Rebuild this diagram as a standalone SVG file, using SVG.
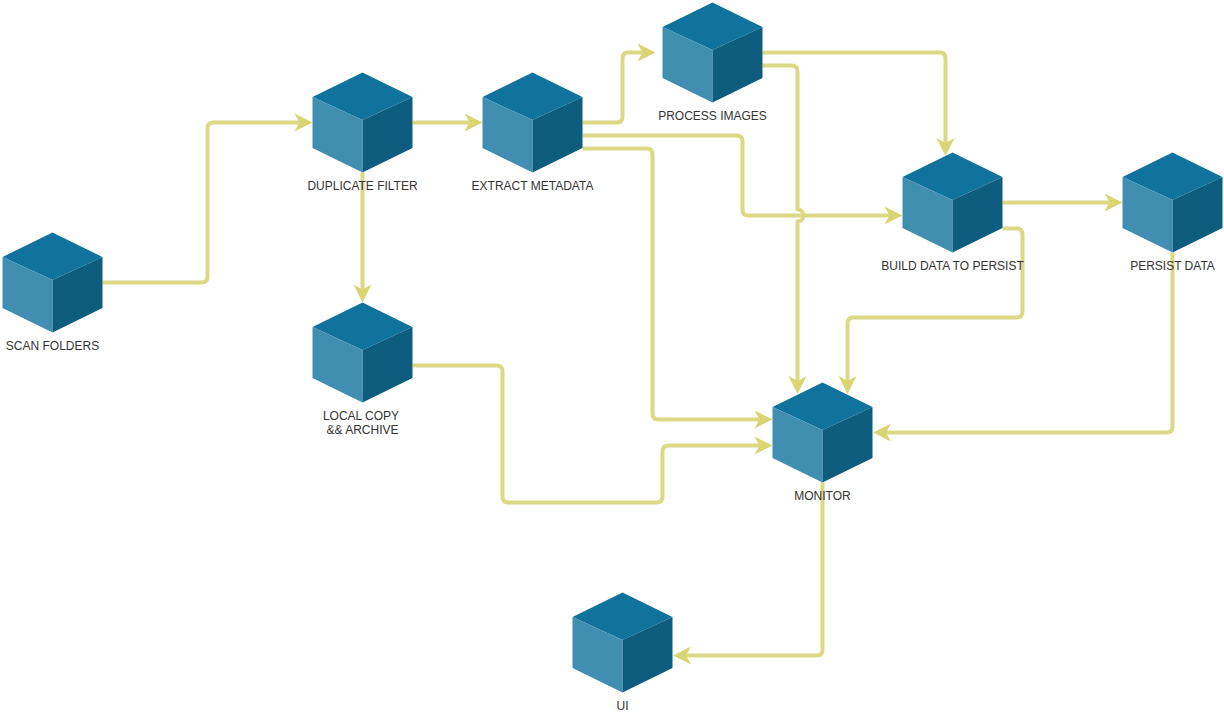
<svg xmlns="http://www.w3.org/2000/svg" width="1224" height="713" viewBox="0 0 1224 713">
<style>
.c{fill:none;stroke:#dcd985;stroke-width:4;stroke-linejoin:round}
.a{marker-end:url(#h)}
.l{font-family:"Liberation Sans",Arial,sans-serif;font-size:12px;fill:#333;text-anchor:middle}
</style>
<defs>
<marker id="h" markerUnits="userSpaceOnUse" markerWidth="19" markerHeight="19" refX="5" refY="9.5" orient="auto" overflow="visible"><polygon points="0,0.5 18,9.5 0,18.5 5,9.5" fill="#d8d572"/></marker>
<g id="cube">
<polygon points="50,0 100,24.5 50,47.5 0,24.5" fill="#10739e"/>
<polygon points="0,24.5 50,47.5 50,100 0,75.5" fill="#408fb1"/>
<polygon points="100,24.5 50,47.5 50,100 100,75.5" fill="#0e5c7e"/>
</g>
</defs>
<rect width="1224" height="713" fill="#fff"/>
<g id="connectors">
<path class="c a" d="M102.5 282.5H201.5Q207.5 282.5 207.5 276.5V128.5Q207.5 122.5 213.5 122.5H299.5"/>
<path class="c a" d="M412.5 122.5H469.5"/>
<path class="c a" d="M362.5 172.5V289.5"/>
<path class="c a" d="M582.5 122.5H616.5Q622.5 122.5 622.5 116.5V58.5Q622.5 52.5 628.5 52.5H642.5"/>
<path class="c a" d="M582.5 135.5H736.5Q742.5 135.5 742.5 141.5V209.5Q742.5 215.5 748.5 215.5H889.5"/>
<path class="c a" d="M582.5 148.5H646.5Q652.5 148.5 652.5 154.5V413.5Q652.5 419.5 658.5 419.5H759.5"/>
<path class="c a" d="M762.5 52.5H939.5Q945.5 52.5 945.5 58.5V143"/>
<path class="c a" d="M762.5 65.5H791.5Q797.5 65.5 797.5 71.5V209.5A6 6 0 0 1 797.5 221.5V381"/>
<path class="c a" d="M1002.5 202.5H1109.5"/>
<path class="c a" d="M1002.5 228.5H1016.5Q1022.5 228.5 1022.5 234.5V311.5Q1022.5 317.5 1016.5 317.5H853.5Q847.5 317.5 847.5 323.5V381"/>
<path class="c a" d="M1172.5 252.5V426.5Q1172.5 432.5 1166.5 432.5H886"/>
<path class="c a" d="M412.5 365.5H496.5Q502.5 365.5 502.5 371.5V496.5Q502.5 502.5 508.5 502.5H656.5Q662.5 502.5 662.5 496.5V451.5Q662.5 445.5 668.5 445.5H759.5"/>
<path class="c a" d="M822.5 482.5V649.5Q822.5 655.5 816.5 655.5H686"/>
</g>
<g id="scan-folders"><use href="#cube" x="2.5" y="232.5"/><text class="l" x="52.5" y="349.5">SCAN FOLDERS</text></g>
<g id="duplicate-filter"><use href="#cube" x="312.5" y="72.5"/><text class="l" x="362.5" y="189.5">DUPLICATE FILTER</text></g>
<g id="extract-metadata"><use href="#cube" x="482.5" y="72.5"/><text class="l" x="532.5" y="189.5">EXTRACT METADATA</text></g>
<g id="process-images"><use href="#cube" x="662.5" y="2.5"/><text class="l" x="712.5" y="119.5">PROCESS IMAGES</text></g>
<g id="build-data"><use href="#cube" x="902.5" y="152.5"/><text class="l" x="952.5" y="269.5">BUILD DATA TO PERSIST</text></g>
<g id="persist-data"><use href="#cube" x="1122.5" y="152.5"/><text class="l" x="1172.5" y="269.5">PERSIST DATA</text></g>
<g id="local-copy"><use href="#cube" x="312.5" y="302.5"/><text class="l" x="361" y="419.5">LOCAL COPY</text><text class="l" x="362.5" y="433.5">&amp;&amp; ARCHIVE</text></g>
<g id="monitor"><use href="#cube" x="772.5" y="382.5"/><text class="l" x="822.5" y="499.5">MONITOR</text></g>
<g id="ui"><use href="#cube" x="572.5" y="592.5"/><text class="l" x="622.5" y="709.5">UI</text></g>
</svg>
